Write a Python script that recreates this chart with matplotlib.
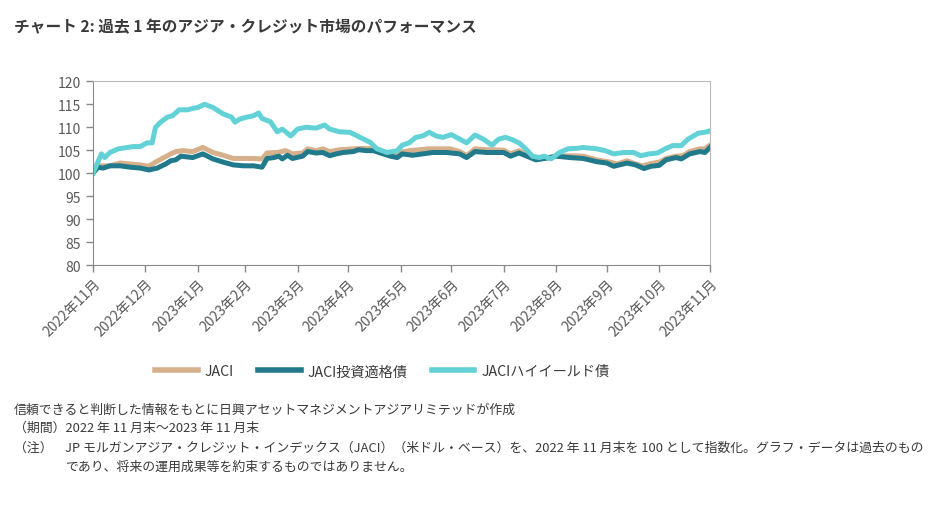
import matplotlib
matplotlib.use("Agg")
import matplotlib.pyplot as plt
import pandas as pd

plt.rcParams['font.family'] = ['Noto Sans CJK JP', 'DejaVu Sans']

title = "チャート 2: 過去 1 年のアジア・クレジット市場のパフォーマンス"
series_names = ["JACI", "JACI投資適格債", "JACIハイイールド債"]
tick_dates = ["2022-11-30", "2022-12-31", "2023-01-31", "2023-02-28", "2023-03-31",
              "2023-04-30", "2023-05-31", "2023-06-30", "2023-07-31", "2023-08-31",
              "2023-09-30", "2023-10-31", "2023-11-30"]
tick_labels = ["2022年11月", "2022年12月", "2023年1月", "2023年2月", "2023年3月",
               "2023年4月", "2023年5月", "2023年6月", "2023年7月", "2023年8月",
               "2023年9月", "2023年10月", "2023年11月"]

jaci_dates = ["2022-11-30", "2022-12-03", "2022-12-10", "2022-12-16", "2022-12-22", "2022-12-28",
              "2023-01-02", "2023-01-06", "2023-01-10", "2023-01-15", "2023-01-18", "2023-01-22",
              "2023-01-28", "2023-02-03", "2023-02-09", "2023-02-15", "2023-02-21", "2023-02-27",
              "2023-03-05", "2023-03-10", "2023-03-13", "2023-03-19", "2023-03-24", "2023-03-28",
              "2023-04-03", "2023-04-06", "2023-04-11", "2023-04-15", "2023-04-19", "2023-04-25",
              "2023-05-03", "2023-05-09", "2023-05-15", "2023-05-19", "2023-05-25", "2023-05-30",
              "2023-06-05", "2023-06-17", "2023-06-29", "2023-07-05", "2023-07-09", "2023-07-14",
              "2023-07-21", "2023-07-31", "2023-08-04", "2023-08-09", "2023-08-13", "2023-08-19",
              "2023-08-24", "2023-08-31", "2023-09-08", "2023-09-16", "2023-09-24", "2023-10-02",
              "2023-10-06", "2023-10-12", "2023-10-17", "2023-10-21", "2023-10-26", "2023-10-31",
              "2023-11-04", "2023-11-10", "2023-11-14", "2023-11-18", "2023-11-24", "2023-11-27",
              "2023-11-30"]
jaci_values = [100.0, 101.6, 101.6, 102.2, 102.0, 101.8,
               101.5, 102.4, 103.2, 104.2, 104.7, 104.9,
               104.7, 105.6, 104.5, 103.9, 103.2, 103.2,
               103.2, 103.1, 104.4, 104.5, 104.9, 104.2,
               104.4, 105.3, 104.9, 105.3, 104.7, 105.1,
               105.3, 105.4, 105.3, 104.5, 103.9, 104.5,
               104.9, 105.3, 105.3, 104.7, 103.8, 105.3,
               105.1, 105.0, 104.2, 104.9, 104.2, 103.1,
               103.2, 103.7, 103.8, 103.7, 102.9, 102.4,
               102.0, 102.7, 102.0, 101.6, 102.1, 102.4,
               103.2, 103.7, 103.8, 104.7, 105.3, 105.3,
               106.1]

ig_dates = ["2022-11-30", "2022-12-03", "2022-12-06", "2022-12-10", "2022-12-16", "2022-12-22",
            "2022-12-28", "2023-01-02", "2023-01-07", "2023-01-12", "2023-01-15", "2023-01-18",
            "2023-01-21", "2023-01-28", "2023-02-03", "2023-02-09", "2023-02-15", "2023-02-21",
            "2023-02-27", "2023-03-05", "2023-03-10", "2023-03-13", "2023-03-17", "2023-03-20",
            "2023-03-22", "2023-03-25", "2023-03-28", "2023-04-03", "2023-04-06", "2023-04-11",
            "2023-04-15", "2023-04-19", "2023-04-23", "2023-04-27", "2023-05-03", "2023-05-06",
            "2023-05-11", "2023-05-15", "2023-05-19", "2023-05-25", "2023-05-29", "2023-06-01",
            "2023-06-07", "2023-06-13", "2023-06-19", "2023-06-27", "2023-07-05", "2023-07-09",
            "2023-07-14", "2023-07-21", "2023-07-31", "2023-08-04", "2023-08-09", "2023-08-13",
            "2023-08-19", "2023-08-24", "2023-08-31", "2023-09-08", "2023-09-16", "2023-09-24",
            "2023-09-30", "2023-10-04", "2023-10-12", "2023-10-17", "2023-10-22", "2023-10-26",
            "2023-10-31", "2023-11-04", "2023-11-10", "2023-11-13", "2023-11-18", "2023-11-24",
            "2023-11-27", "2023-11-30"]
ig_values = [100.0, 101.3, 101.1, 101.6, 101.6, 101.3,
             101.1, 100.7, 101.1, 102.0, 102.7, 102.9,
             103.7, 103.4, 104.2, 103.1, 102.4, 101.8,
             101.6, 101.6, 101.3, 103.2, 103.4, 103.7,
             103.1, 103.9, 103.2, 103.7, 104.7, 104.4,
             104.5, 103.8, 104.2, 104.5, 104.7, 105.1,
             104.9, 104.9, 104.4, 103.7, 103.4, 104.2,
             103.9, 104.2, 104.5, 104.5, 104.2, 103.4,
             104.7, 104.5, 104.5, 103.7, 104.4, 103.8,
             102.9, 103.2, 103.7, 103.4, 103.2, 102.5,
             102.2, 101.5, 102.2, 101.8, 101.0, 101.5,
             101.7, 102.9, 103.4, 103.1, 104.2, 104.7,
             104.5, 105.6]

hy_dates = ["2022-11-30", "2022-12-05", "2022-12-07", "2022-12-10", "2022-12-15", "2022-12-24",
            "2022-12-28", "2023-01-01", "2023-01-04", "2023-01-06", "2023-01-09", "2023-01-13",
            "2023-01-16", "2023-01-20", "2023-01-25", "2023-01-28", "2023-01-31", "2023-02-04",
            "2023-02-09", "2023-02-15", "2023-02-20", "2023-02-22", "2023-02-25", "2023-03-01",
            "2023-03-05", "2023-03-08", "2023-03-10", "2023-03-15", "2023-03-19", "2023-03-22",
            "2023-03-27", "2023-03-31", "2023-04-05", "2023-04-11", "2023-04-16", "2023-04-19",
            "2023-04-25", "2023-05-01", "2023-05-07", "2023-05-13", "2023-05-17", "2023-05-23",
            "2023-05-29", "2023-06-01", "2023-06-05", "2023-06-09", "2023-06-13", "2023-06-17",
            "2023-06-21", "2023-06-25", "2023-06-30", "2023-07-05", "2023-07-09", "2023-07-14",
            "2023-07-19", "2023-07-24", "2023-07-28", "2023-08-01", "2023-08-05", "2023-08-09",
            "2023-08-13", "2023-08-17", "2023-08-21", "2023-08-24", "2023-08-28", "2023-09-02",
            "2023-09-07", "2023-09-12", "2023-09-16", "2023-09-24", "2023-09-29", "2023-10-04",
            "2023-10-10", "2023-10-16", "2023-10-20", "2023-10-25", "2023-10-30", "2023-11-04",
            "2023-11-08", "2023-11-13", "2023-11-17", "2023-11-23", "2023-11-27", "2023-11-30"]
hy_values = [100.0, 104.2, 103.4, 104.5, 105.3, 105.8,
             105.8, 106.6, 106.6, 110.0, 111.1, 112.2,
             112.5, 113.8, 113.8, 114.1, 114.3, 115.0,
             114.3, 112.9, 112.2, 111.1, 111.8, 112.2,
             112.5, 113.1, 111.9, 111.2, 109.0, 109.6,
             108.1, 109.6, 110.0, 109.8, 110.5, 109.6,
             109.0, 108.9, 107.8, 106.7, 105.3, 104.5,
             104.9, 106.1, 106.6, 107.8, 108.1, 108.9,
             108.1, 107.8, 108.4, 107.4, 106.6, 108.3,
             107.4, 106.1, 107.4, 107.8, 107.3, 106.6,
             105.3, 103.7, 103.4, 103.7, 103.1, 104.5,
             105.3, 105.4, 105.6, 105.3, 104.9, 104.2,
             104.5, 104.5, 103.8, 104.2, 104.4, 105.4,
             106.0, 106.0, 107.4, 108.7, 108.9, 109.2]

colors = ["#D6B08A", "#217A8C", "#63D2D6"]
text_color = "#3a3a3a"
tick_color = "#595959"

fig = plt.figure(figsize=(9.42, 5.10), dpi=100)
ax = fig.add_axes([0.0987, 0.4784, 0.6550, 0.3602])

for d, v, c, n in [(jaci_dates, jaci_values, colors[0], series_names[0]),
                   (ig_dates, ig_values, colors[1], series_names[1]),
                   (hy_dates, hy_values, colors[2], series_names[2])]:
    ax.plot(pd.to_datetime(d), v, color=c, lw=3.6, label=n, solid_joinstyle='round')

ax.set_ylim(80, 120)
ax.set_yticks(range(80, 121, 5))
ax.set_xlim(pd.Timestamp("2022-11-30"), pd.Timestamp("2023-11-30"))
ax.set_xticks(pd.to_datetime(tick_dates))
ax.set_xticklabels(tick_labels, rotation=45, ha='right', rotation_mode='anchor')
ax.tick_params(axis='both', colors="#888888", labelcolor=tick_color, labelsize=10, length=5, width=1)
ax.tick_params(axis='x', pad=3)
for s in ['left', 'bottom']:
    ax.spines[s].set_color("#888888")
for s in ['top', 'right']:
    ax.spines[s].set_color("#bbbbbb")

fig.text(0.015, 0.947, title, fontsize=11.3, fontweight='bold', color=text_color, va='center', ha='left')

leg = fig.legend(loc='center', bbox_to_anchor=(0.406, 0.27), ncol=3, frameon=False,
                 fontsize=10.2, handlelength=3.0, columnspacing=1.7, handletextpad=0.5)
for t in leg.get_texts():
    t.set_color(text_color)
for h in leg.get_lines():
    h.set_linewidth(4)

fs = 9.3
fig.text(0.015, 0.196, "信頼できると判断した情報をもとに日興アセットマネジメントアジアリミテッドが作成",
         fontsize=fs, color=text_color, va='center')
fig.text(0.015, 0.160, "（期間）2022 年 11 月末～2023 年 11 月末", fontsize=fs, color=text_color, va='center')
fig.text(0.015, 0.122, "（注）", fontsize=fs, color=text_color, va='center')
fig.text(0.069, 0.122, "JP モルガンアジア・クレジット・インデックス（JACI）（米ドル・ベース）を、2022 年 11 月末を 100 として指数化。グラフ・データは過去のもの",
         fontsize=9.3, color=text_color, va='center')
fig.text(0.069, 0.084, "であり、将来の運用成果等を約束するものではありません。", fontsize=fs, color=text_color, va='center')

fig.savefig("out.png", dpi=100)
